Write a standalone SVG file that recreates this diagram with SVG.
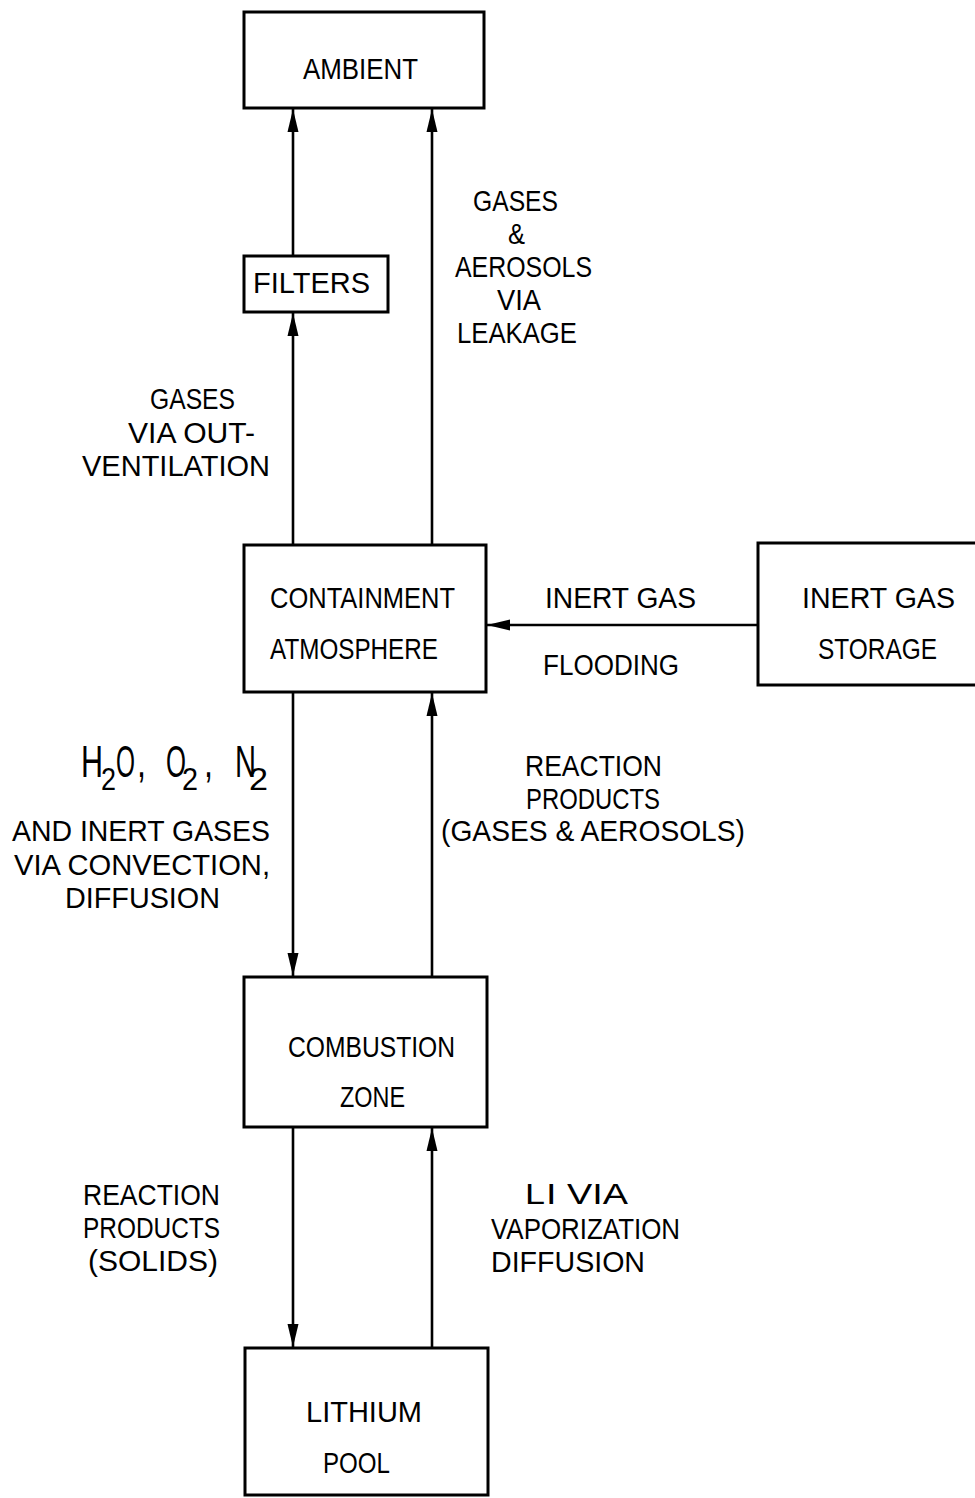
<svg xmlns="http://www.w3.org/2000/svg" width="975" height="1498" viewBox="0 0 975 1498">
<style>
.box{fill:#fff;stroke:#000;stroke-width:3}
.t{font-family:"Liberation Sans",Arial,sans-serif;font-size:29px;fill:#000}
.big{font-size:44px}
.sub{font-size:32px}
.c{stroke:#000;stroke-width:2.6;fill:none}
</style>
<defs>
<marker id="ah" markerUnits="userSpaceOnUse" markerWidth="24" markerHeight="12" refX="23" refY="6" orient="auto">
<path d="M0,0.5 L23,6 L0,11.5 Z" fill="#000"/>
</marker>
</defs>
<rect width="975" height="1498" fill="#fff"/>
<g id="connectors">
<line class="c" x1="293" y1="545" x2="293" y2="313" marker-end="url(#ah)"/>
<line class="c" x1="293" y1="256" x2="293" y2="109" marker-end="url(#ah)"/>
<line class="c" x1="432" y1="545" x2="432" y2="109" marker-end="url(#ah)"/>
<line class="c" x1="758" y1="625" x2="487" y2="625" marker-end="url(#ah)"/>
<line class="c" x1="293" y1="692" x2="293" y2="976" marker-end="url(#ah)"/>
<line class="c" x1="432" y1="977" x2="432" y2="693" marker-end="url(#ah)"/>
<line class="c" x1="293" y1="1127" x2="293" y2="1347" marker-end="url(#ah)"/>
<line class="c" x1="432" y1="1348" x2="432" y2="1128" marker-end="url(#ah)"/>
</g>
<g id="ambient">
<rect class="box" x="244" y="12" width="240" height="96"/>
<text class="t" x="303" y="79" textLength="115" lengthAdjust="spacingAndGlyphs">AMBIENT</text>
</g>
<g id="filters">
<rect class="box" x="244" y="256" width="144" height="56"/>
<text class="t" x="253" y="293" textLength="117" lengthAdjust="spacingAndGlyphs">FILTERS</text>
</g>
<g id="containment">
<rect class="box" x="244" y="545" width="242" height="147"/>
<text class="t" x="270" y="608" textLength="185" lengthAdjust="spacingAndGlyphs">CONTAINMENT</text>
<text class="t" x="270" y="659" textLength="168" lengthAdjust="spacingAndGlyphs">ATMOSPHERE</text>
</g>
<g id="inert-gas-storage">
<rect class="box" x="758" y="543" width="230" height="142"/>
<text class="t" x="802" y="608" textLength="153" lengthAdjust="spacingAndGlyphs">INERT GAS</text>
<text class="t" x="818" y="659" textLength="119" lengthAdjust="spacingAndGlyphs">STORAGE</text>
</g>
<g id="combustion">
<rect class="box" x="244" y="977" width="243" height="150"/>
<text class="t" x="288" y="1057" textLength="167" lengthAdjust="spacingAndGlyphs">COMBUSTION</text>
<text class="t" x="340" y="1107" textLength="65" lengthAdjust="spacingAndGlyphs">ZONE</text>
</g>
<g id="lithium-pool">
<rect class="box" x="245" y="1348" width="243" height="147"/>
<text class="t" x="306" y="1422" textLength="116" lengthAdjust="spacingAndGlyphs">LITHIUM</text>
<text class="t" x="323" y="1473" textLength="67" lengthAdjust="spacingAndGlyphs">POOL</text>
</g>
<g id="labels">
<text class="t" x="473" y="211" textLength="85" lengthAdjust="spacingAndGlyphs">GASES</text>
<text class="t" x="508" y="244" textLength="17" lengthAdjust="spacingAndGlyphs">&amp;</text>
<text class="t" x="455" y="277" textLength="137" lengthAdjust="spacingAndGlyphs">AEROSOLS</text>
<text class="t" x="497" y="310" textLength="44" lengthAdjust="spacingAndGlyphs">VIA</text>
<text class="t" x="457" y="343" textLength="120" lengthAdjust="spacingAndGlyphs">LEAKAGE</text>

<text class="t" x="150" y="409" textLength="85" lengthAdjust="spacingAndGlyphs">GASES</text>
<text class="t" x="128" y="443" textLength="127" lengthAdjust="spacingAndGlyphs">VIA OUT-</text>
<text class="t" x="82" y="476" textLength="188" lengthAdjust="spacingAndGlyphs">VENTILATION</text>

<text class="t" x="545" y="608" textLength="151" lengthAdjust="spacingAndGlyphs">INERT GAS</text>
<text class="t" x="543" y="675" textLength="136" lengthAdjust="spacingAndGlyphs">FLOODING</text>

<text class="t big" x="81" y="777" textLength="22" lengthAdjust="spacingAndGlyphs">H</text>
<text class="t sub" x="101" y="790" textLength="15" lengthAdjust="spacingAndGlyphs">2</text>
<text class="t big" x="116" y="777" textLength="19" lengthAdjust="spacingAndGlyphs">O</text>
<text class="t big" x="137" y="777" textLength="9" lengthAdjust="spacingAndGlyphs">,</text>
<text class="t big" x="166" y="777" textLength="20" lengthAdjust="spacingAndGlyphs">O</text>
<text class="t sub" x="182" y="790" textLength="16" lengthAdjust="spacingAndGlyphs">2</text>
<text class="t big" x="204" y="777" textLength="9" lengthAdjust="spacingAndGlyphs">,</text>
<text class="t big" x="235" y="777" textLength="21" lengthAdjust="spacingAndGlyphs">N</text>
<text class="t sub" x="249" y="790" textLength="19" lengthAdjust="spacingAndGlyphs">2</text>

<text class="t" x="12" y="841" textLength="258" lengthAdjust="spacingAndGlyphs">AND INERT GASES</text>
<text class="t" x="14" y="875" textLength="256" lengthAdjust="spacingAndGlyphs">VIA CONVECTION,</text>
<text class="t" x="65" y="908" textLength="155" lengthAdjust="spacingAndGlyphs">DIFFUSION</text>

<text class="t" x="525" y="776" textLength="137" lengthAdjust="spacingAndGlyphs">REACTION</text>
<text class="t" x="526" y="809" textLength="134" lengthAdjust="spacingAndGlyphs">PRODUCTS</text>
<text class="t" x="441" y="841" textLength="304" lengthAdjust="spacingAndGlyphs">(GASES &amp; AEROSOLS)</text>

<text class="t" x="83" y="1205" textLength="137" lengthAdjust="spacingAndGlyphs">REACTION</text>
<text class="t" x="83" y="1238" textLength="137" lengthAdjust="spacingAndGlyphs">PRODUCTS</text>
<text class="t" x="88" y="1271" textLength="130" lengthAdjust="spacingAndGlyphs">(SOLIDS)</text>

<text class="t" x="525" y="1204" font-size="36" textLength="20" lengthAdjust="spacingAndGlyphs">L</text>
<text class="t" x="546" y="1204" font-size="23" textLength="82" lengthAdjust="spacingAndGlyphs">I VIA</text>
<text class="t" x="491" y="1239" textLength="189" lengthAdjust="spacingAndGlyphs">VAPORIZATION</text>
<text class="t" x="491" y="1272" textLength="154" lengthAdjust="spacingAndGlyphs">DIFFUSION</text>
</g>
</svg>
